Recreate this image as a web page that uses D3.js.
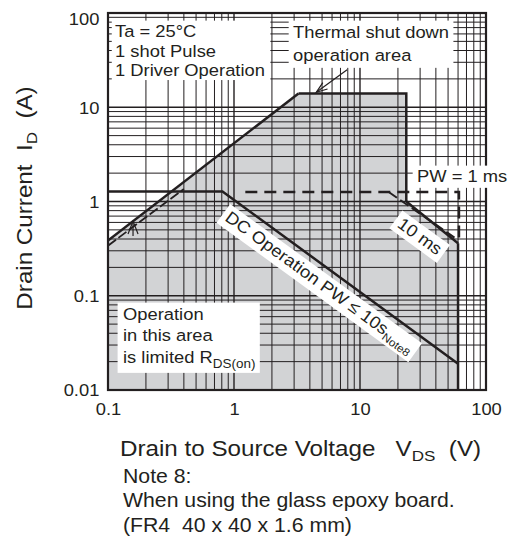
<!DOCTYPE html>
<html><head><meta charset="utf-8">
<script src="https://cdn.jsdelivr.net/npm/d3@7"></script>
<style>body{margin:0;background:#fff} svg text{white-space:pre}</style>
</head><body><svg id="c" width="514" height="545"></svg>
<script>
// ---- data ----
const xTickValues=[0.1,1,10,100];
const xTickLabels=["0.1","1","10","100"];
const yTickValues=[0.01,0.1,1,10,100];
const yTickLabels=["0.01","0.1","1","10","100"];
// R_DS(on) limit
const rdsV=[0.1,3.25], rdsI=[0.385,14];
const rdsDashV=[0.1,0.4], rdsDashI=[0.34,1.36];
// thermal shut down boundary
const thermalV=[3.25,23.3,23.3], thermalI=[14,14,1.0];
// 10 ms
const ms10V=[23.3,60], ms10I=[1.0,0.36];
// 1 ms (dashed)
const ms1V=[1.23,61,61], ms1I=[1.26,1.26,0.37];
const ms1DiagV=[16.9,60], ms1DiagI=[1.26,0.39];
// DC operation
const dcV=[0.1,0.81,60], dcI=[1.28,1.28,0.019];
// right boundary
const boundV=[60,60], boundI=[0.36,0.01];
// safe operating area
const areaV=[0.1,0.1,3.25,23.3,23.3,60,60], areaI=[0.01,0.385,14,14,1.0,0.36,0.01];
// annotation arrows [tail, tip]
const thermalArrowV=[7.9,4.5], thermalArrowI=[25,14.4];
const rdsArrowV=[0.158,0.158], rdsArrowI=[0.43,0.62];

// ---- setup ----
const W=514,H=545;
const m={l:108,r:486,t:13,b:390};
const SX=1.08;
const ink="#231f20";
const font='"Liberation Sans", Arial, Helvetica, sans-serif';
const svg=d3.select("#c");
const x=d3.scaleLog().domain([0.1,100]).range([m.l,m.r]);
const y=d3.scaleLog().domain([0.01,100]).range([m.b,m.t]);
const zip=(a,b)=>a.map((v,i)=>[v,b[i]]);
const line=d3.line().x(d=>x(d[0])).y(d=>y(d[1]));
const isMajor=d=>Math.abs(Math.log10(d)-Math.round(Math.log10(d)))<1e-6;

svg.append("rect").attr("width",W).attr("height",H).attr("fill","#fff");
svg.append("clipPath").attr("id","pc").append("rect")
  .attr("x",m.l).attr("y",m.t).attr("width",m.r-m.l).attr("height",m.b-m.t);
const plot=svg.append("g").attr("clip-path","url(#pc)");

// area
plot.append("path").attr("d",line(zip(areaV,areaI))+"Z").attr("fill","#d2d3d5");

// grid
plot.selectAll(".vg").data(x.ticks()).join("line").attr("class","vg")
  .attr("x1",d=>x(d)).attr("x2",d=>x(d)).attr("y1",m.t).attr("y2",m.b)
  .attr("stroke",ink).attr("stroke-width",d=>isMajor(d)?1.4:1);
plot.selectAll(".hg").data(y.ticks()).join("line").attr("class","hg")
  .attr("y1",d=>y(d)).attr("y2",d=>y(d)).attr("x1",m.l).attr("x2",m.r)
  .attr("stroke",ink).attr("stroke-width",d=>isMajor(d)?1.4:1);

// text blocks with white boxes
function textBlock(parent,o){
  const sx=o.sx||SX;
  const g=parent.append("g").attr("transform",`translate(${o.x0},${o.y0}) rotate(${o.angle||0})`);
  const s=g.append("g").attr("transform",`scale(${sx},1)`);
  const rect=s.append("rect").attr("fill","#fff");
  const t=s.append("text").attr("font-size",o.size||17).attr("text-anchor",o.anchor||"start")
    .attr("fill",ink).attr("font-family",font);
  o.lines.forEach((ln,i)=>{
    let prev=0;
    ln.forEach((p,j)=>{
      const parts=Array.isArray(p)?p:[p];
      const ts=t.append("tspan").text(parts[0]);
      if(j===0) ts.attr("x",0).attr("y",(o.dy||0)+i*(o.lh||20));
      const dd=parts[2]||0;
      if(j>0) ts.attr("dy",dd-prev);
      prev=dd;
      if(parts[1]) ts.attr("font-size",parts[1]);
    });
  });
  if(o.box!==false){
    const b=t.node().getBBox(); const p=o.pad||[2,4,2,4];
    rect.attr("x",b.x-p[3]).attr("y",b.y-p[0]).attr("width",b.width+p[1]+p[3]).attr("height",b.height+p[0]+p[2]);
  }
  return g;
}
const labels=svg.append("g");
textBlock(labels,{x0:115,y0:37,lh:19.6,size:17,pad:[1,5,0,3],
  lines:[["Ta = 25°C"],["1 shot Pulse"],["1 Driver Operation"]]});
textBlock(labels,{x0:293,y0:38,lh:23,size:17,pad:[2,4,3,4],
  lines:[["Thermal shut down"],["operation area"]]});
textBlock(labels,{x0:420,y0:236,angle:36,anchor:"middle",dy:6,size:17,pad:[1,4,2,4],lines:[["10 ms"]]});
textBlock(labels,{x0:320,y0:282,angle:36,anchor:"middle",dy:6,size:17,pad:[1,4,1,4],
  lines:[["DC Operation PW ≤ 10s",["Note8",11,4]]]});
textBlock(labels,{x0:123,y0:320,lh:21.5,size:17,pad:[2,4,2,5],
  lines:[["Operation"],["in this area"],["is limited R",["DS(on)",12.5,5]]]});

// curves
const curves=svg.append("g").attr("clip-path","url(#pc)").attr("fill","none").attr("stroke",ink);
curves.append("path").attr("d",line(zip(rdsV,rdsI))).attr("stroke-width",2.5);
curves.append("path").attr("d",line(zip(rdsDashV,rdsDashI))).attr("stroke-width",1.8).attr("stroke-dasharray","10,3");
curves.append("path").attr("d",line(zip(thermalV,thermalI))).attr("stroke-width",2.5);
curves.append("path").attr("d",line(zip(ms10V,ms10I))).attr("stroke-width",2.5);
curves.append("path").attr("d",line(zip(dcV,dcI))).attr("stroke-width",2.5);
curves.append("path").attr("d",line(zip(boundV,boundI))).attr("stroke-width",2.5);
curves.append("path").attr("d",line(zip(ms1V,ms1I))).attr("stroke-width",2.5).attr("stroke-dasharray","12,7");
curves.append("path").attr("d",line(zip(ms1DiagV,ms1DiagI))).attr("stroke-width",2).attr("stroke-dasharray","10,4");

// arrows (open heads)
function arrow(V,I,len,half){
  const x1=x(V[0]),y1=y(I[0]),x2=x(V[1]),y2=y(I[1]);
  const a=Math.atan2(y2-y1,x2-x1);
  const g=svg.append("g").attr("stroke",ink).attr("fill","none").attr("stroke-width",1.2);
  g.append("line").attr("x1",x1).attr("y1",y1).attr("x2",x2).attr("y2",y2);
  const p=s=>[x2-len*Math.cos(a)+s*half*Math.sin(a), y2-len*Math.sin(a)-s*half*Math.cos(a)];
  const l=p(1),r=p(-1);
  g.append("path").attr("d",`M${l[0]},${l[1]}L${x2},${y2}L${r[0]},${r[1]}`);
}
arrow(thermalArrowV,thermalArrowI,11,4);
arrow(rdsArrowV,rdsArrowI,13,5);

// border
svg.append("rect").attr("x",m.l).attr("y",m.t).attr("width",m.r-m.l).attr("height",m.b-m.t)
  .attr("fill","none").attr("stroke",ink).attr("stroke-width",2.2);

// PW label overlaps the border
textBlock(svg.append("g"),{x0:417,y0:182,size:17,pad:[1,4,2,4],lines:[["PW = 1 ms"]]});

// axes
const ax=svg.append("g").attr("transform",`translate(0,${m.b})`)
  .call(d3.axisBottom(x).tickValues(xTickValues).tickFormat((d,i)=>xTickLabels[i]).tickSize(0).tickPadding(13));
const ay=svg.append("g").attr("transform",`translate(${m.l},0)`)
  .call(d3.axisLeft(y).tickValues(yTickValues).tickFormat((d,i)=>yTickLabels[i]).tickSize(0).tickPadding(8));
[ax,ay].forEach(a=>{a.select(".domain").remove();
  a.selectAll("text").attr("font-family",font).attr("font-size",17).attr("fill",ink)
   .attr("transform",`scale(${SX},1)`);});
ay.selectAll(".tick text").attr("dy",(d)=>d===100?"0.7em":"0.34em");

// axis titles and note
const tg=svg.append("g");
textBlock(tg,{x0:120,y0:456,size:22,sx:1.1,box:false,
  lines:[["Drain to Source Voltage   V",["DS",15.5,5],["  (V)",22,0]]]});
textBlock(tg,{x0:32,y0:198,angle:-90,anchor:"middle",size:22,sx:1.1,box:false,
  lines:[["Drain Current  I",["D",15.5,5],["  (A)",22,0]]]});
textBlock(tg,{x0:123,y0:483,lh:24.5,size:19.5,sx:1.09,box:false,
  lines:[["Note 8:"],["When using the glass epoxy board."],["(FR4  40 x 40 x 1.6 mm)"]]});
</script></body></html>
